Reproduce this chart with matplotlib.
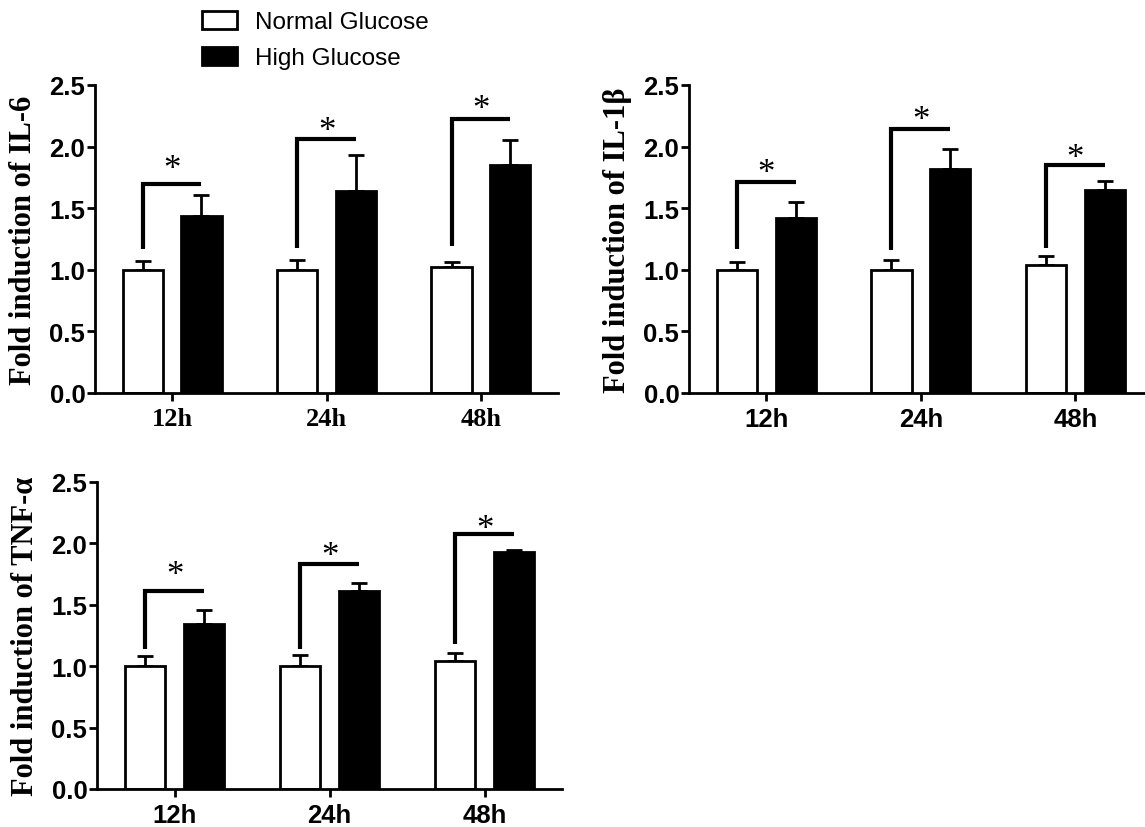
import numpy as np
import matplotlib.pyplot as plt

plt.rcParams['font.family'] = 'Liberation Sans'

times = ['12h', '24h', '48h']
groups = ['Normal Glucose', 'High Glucose']

# IL-6
il6_normal = [1.00, 1.00, 1.02]
il6_normal_err = [0.07, 0.08, 0.04]
il6_high = [1.44, 1.64, 1.85]
il6_high_err = [0.17, 0.29, 0.20]
il6_brk_low = [1.17, 1.18, 1.19]
il6_brk_top = [1.70, 2.06, 2.22]
il6_star = [1.89, 2.20, 2.38]

# IL-1beta
il1b_normal = [1.00, 1.00, 1.04]
il1b_normal_err = [0.06, 0.08, 0.07]
il1b_high = [1.42, 1.82, 1.65]
il1b_high_err = [0.13, 0.16, 0.07]
il1b_brk_low = [1.17, 1.16, 1.18]
il1b_brk_top = [1.71, 2.14, 1.85]
il1b_star = [1.86, 2.29, 1.98]

# TNF-alpha
tnf_normal = [1.00, 1.00, 1.04]
tnf_normal_err = [0.08, 0.09, 0.07]
tnf_high = [1.34, 1.61, 1.93]
tnf_high_err = [0.12, 0.07, 0.02]
tnf_brk_low = [1.14, 1.14, 1.18]
tnf_brk_top = [1.61, 1.83, 2.08]
tnf_star = [1.82, 1.97, 2.19]

yticks = [0.0, 0.5, 1.0, 1.5, 2.0, 2.5]

W, H = 1145, 828
fig = plt.figure(figsize=(W / 100, H / 100), dpi=100)


def px_axes(left, right, top, bottom):
    return fig.add_axes([left / W, (H - bottom) / H, (right - left) / W, (bottom - top) / H])


def panel(ax, normal, nerr, high, herr, blow, btop, star, ylabel, xfont, xmax=2.5):
    x = np.arange(len(times))
    off, w = 0.19, 0.26
    b1 = ax.bar(x - off, normal, width=w, color='white', edgecolor='black', linewidth=2, zorder=2)
    b2 = ax.bar(x + off, high, width=w, color='black', edgecolor='black', linewidth=2, zorder=2)
    ax.errorbar(x - off, normal, yerr=[np.zeros(3), nerr], fmt='none', ecolor='black',
                elinewidth=2, capsize=6, capthick=2, zorder=1)
    ax.errorbar(x + off, high, yerr=[np.zeros(3), herr], fmt='none', ecolor='black',
                elinewidth=2, capsize=6, capthick=2, zorder=1)
    for i in range(len(times)):
        ax.plot([x[i] - off, x[i] - off, x[i] + off], [blow[i], btop[i], btop[i]],
                color='black', lw=3, solid_joinstyle='miter', solid_capstyle='butt')
        ax.annotate('*', (x[i], star[i]), xytext=(0, -13), textcoords='offset points',
                    ha='center', va='baseline', fontsize=25, family='Liberation Serif')
    ax.set_xlim(-0.5, xmax)
    ax.set_ylim(0, 2.5)
    ax.set_yticks(yticks)
    ax.set_yticklabels([f'{v:.1f}' for v in yticks], fontsize=18.5, fontweight='bold')
    ax.set_xticks(x)
    ax.set_xticklabels(times, fontsize=19 if xfont == 'Liberation Serif' else 18.5,
                       fontweight='bold', family=xfont)
    ax.set_ylabel(ylabel, fontsize=22, fontweight='bold', family='Liberation Serif', labelpad=8)
    for s in ['top', 'right']:
        ax.spines[s].set_visible(False)
    for s in ['left', 'bottom']:
        ax.spines[s].set_linewidth(2)
    ax.tick_params(width=2, length=6, direction='out')
    ax.tick_params(axis='y', pad=1)
    ax.tick_params(axis='x', pad=4)
    return b1, b2


ax1 = px_axes(95, 558, 86, 394)
b1, b2 = panel(ax1, il6_normal, il6_normal_err, il6_high, il6_high_err,
               il6_brk_low, il6_brk_top, il6_star, 'Fold induction of IL-6', 'Liberation Serif')

ax2 = px_axes(689, 1145, 86, 394)
panel(ax2, il1b_normal, il1b_normal_err, il1b_high, il1b_high_err,
      il1b_brk_low, il1b_brk_top, il1b_star, 'Fold induction of IL-1β', 'Liberation Sans', xmax=2.45)

ax3 = px_axes(97, 562, 483, 790)
panel(ax3, tnf_normal, tnf_normal_err, tnf_high, tnf_high_err,
      tnf_brk_low, tnf_brk_top, tnf_star, 'Fold induction of TNF-α', 'Liberation Sans')

fig.legend([b1, b2], groups, loc='upper left', bbox_to_anchor=(202 / W, 1 - 12 / H),
           frameon=False, fontsize=17.5, handlelength=1.45, handleheight=0.75,
           handletextpad=0.75, labelspacing=0.55, borderpad=0, borderaxespad=0)

fig.savefig('out.png', dpi=100)
